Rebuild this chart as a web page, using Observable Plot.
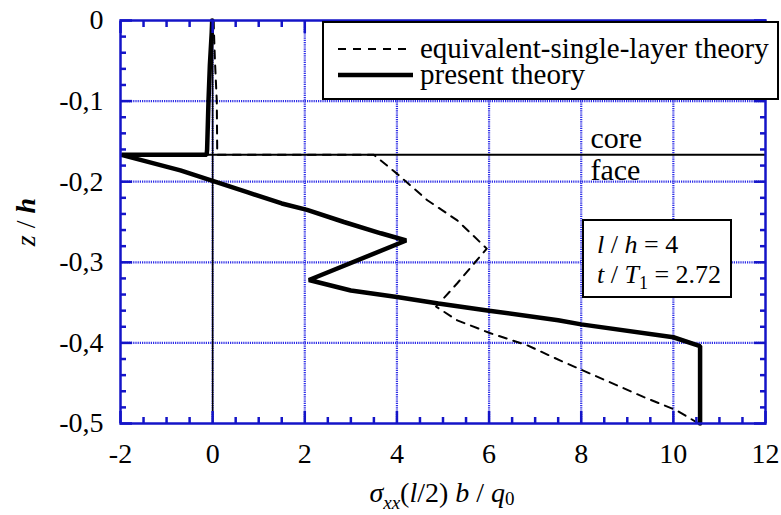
<!DOCTYPE html>
<html>
<head>
<meta charset="utf-8">
<script src="https://cdn.jsdelivr.net/npm/d3@7"></script>
<script src="https://cdn.jsdelivr.net/npm/@observablehq/plot@0.6"></script>
<style>
  body { margin: 0; background: #fff; }
  svg { display: block; }
</style>
</head>
<body>
<div id="chart"></div>
<script>
// Bending stress σxx(l/2)·b/q0 through the lower half of the sandwich (z/h from 0 to -0.5)

// present theory (core, jump at the interface, then face)
const presentSigma = [-0.01, -0.02, -0.06, -0.09, -0.12, -0.13, -1.98, -0.7, 0.0, 0.75, 1.5, 2.05, 2.85, 3.65, 4.2, 2.09, 3.0, 4.0, 4.9, 6.0, 7.5, 8.0, 10.0, 10.58, 10.58];
const presentZ     = [0.0, -0.015, -0.055, -0.1, -0.16, -0.1667, -0.1667, -0.186, -0.199, -0.213, -0.227, -0.235, -0.25, -0.264, -0.273, -0.322, -0.335, -0.343, -0.351, -0.36, -0.372, -0.377, -0.393, -0.404, -0.5];

// equivalent-single-layer theory
const eslSigma = [0.02, 0.05, 0.09, 0.1, 3.5, 4.0, 4.66, 5.31, 5.95, 5.31, 4.85, 5.31, 6.03, 6.83, 7.55, 8.27, 9.35, 10.08, 10.55];
const eslZ     = [0.0, -0.05, -0.1, -0.1667, -0.1667, -0.19, -0.223, -0.248, -0.283, -0.326, -0.355, -0.372, -0.388, -0.403, -0.422, -0.44, -0.467, -0.484, -0.5];

// core / face interface
const interfaceZ = -1 / 6;

// axes
const xTicks = [-2, 0, 2, 4, 6, 8, 10, 12];
const xTickLabels = ["-2", "0", "2", "4", "6", "8", "10", "12"];
const yTicks = [0, -0.1, -0.2, -0.3, -0.4, -0.5];
const yTickLabels = ["0", "-0,1", "-0,2", "-0,3", "-0,4", "-0,5"];
const xGrid = [0, 2, 4, 6, 8, 10];
const yGrid = [-0.1, -0.2, -0.3, -0.4];
const xMinor = d3.range(-2, 12.001, 0.5).filter(v => Math.abs(v / 2 - Math.round(v / 2)) > 1e-6);
const yMinor = d3.range(0, -0.5001, -0.02).filter(v => Math.abs(v * 10 - Math.round(v * 10)) > 1e-6);

const present = presentSigma.map((s, i) => ({sigma: s, z: presentZ[i]}));
const esl = eslSigma.map((s, i) => ({sigma: s, z: eslZ[i]}));

const blue = "#1414c8";
const gridBlue = "#2c2ce6";
const font = "'Liberation Serif', 'Times New Roman', serif";

const labelFor = (ticks, labels) => d => {
  const i = ticks.findIndex(t => Math.abs(t - d) < 1e-9);
  return i < 0 ? "" : labels[i];
};
const blank = () => "";

const tickAxes = [];
for (const [anchor, axis] of [["bottom", Plot.axisX], ["top", Plot.axisX], ["left", Plot.axisY], ["right", Plot.axisY]]) {
  const major = anchor === "bottom" || anchor === "top" ? xTicks : yTicks;
  const minor = anchor === "bottom" || anchor === "top" ? xMinor : yMinor;
  tickAxes.push(axis(major, {anchor, tickSize: -12, tickFormat: blank, stroke: blue, strokeWidth: 2.5, label: null}));
  tickAxes.push(axis(minor, {anchor, tickSize: -6, tickFormat: blank, stroke: blue, strokeWidth: 2.5, label: null}));
}

const chart = Plot.plot({
  width: 781,
  height: 515,
  marginLeft: 120,
  marginRight: 16,
  marginTop: 20,
  marginBottom: 92,
  style: {fontFamily: font, fontSize: "28px", color: "black", background: "white"},
  x: {domain: [-2, 12]},
  y: {domain: [-0.5, 0]},
  marks: [
    Plot.gridX(xGrid, {stroke: gridBlue, strokeOpacity: 1, strokeWidth: 2.2, strokeDasharray: "1.2,1"}),
    Plot.gridY(yGrid, {stroke: gridBlue, strokeOpacity: 1, strokeWidth: 2.2, strokeDasharray: "1.2,1"}),
    Plot.ruleX([0], {stroke: "black", strokeWidth: 1.5}),
    Plot.ruleY([interfaceZ], {stroke: "black", strokeWidth: 2}),
    Plot.line(esl, {x: "sigma", y: "z", stroke: "black", strokeWidth: 2, strokeDasharray: "8,7"}),
    Plot.line(present, {x: "sigma", y: "z", stroke: "black", strokeWidth: 4.5, strokeLinejoin: "miter"}),
    Plot.text(["core"], {x: 8.2, y: -0.158, text: d => d, textAnchor: "start", lineAnchor: "bottom", fontSize: 30}),
    Plot.text(["face"], {x: 8.2, y: -0.198, text: d => d, textAnchor: "start", lineAnchor: "bottom", fontSize: 30}),
    ...tickAxes,
    Plot.axisX(xTicks, {anchor: "bottom", tickSize: 0, tickPadding: 20, tickFormat: labelFor(xTicks, xTickLabels), label: null, fontSize: 28}),
    Plot.axisY(yTicks, {anchor: "left", tickSize: 0, tickPadding: 17, tickFormat: labelFor(yTicks, yTickLabels), label: null, fontSize: 28}),
    Plot.frame({stroke: blue, strokeWidth: 2.5})
  ]
});

const svg = d3.select(chart);

// legend
const leg = svg.append("g").attr("font-family", font).attr("font-size", 29).attr("text-anchor", "start");
leg.append("rect").attr("x", 323).attr("y", 22).attr("width", 455).attr("height", 77)
  .attr("fill", "white").attr("stroke", "black").attr("stroke-width", 2);
leg.append("line").attr("x1", 338).attr("x2", 413).attr("y1", 49).attr("y2", 49)
  .attr("stroke", "black").attr("stroke-width", 2).attr("stroke-dasharray", "8,7");
leg.append("line").attr("x1", 338).attr("x2", 413).attr("y1", 75).attr("y2", 75)
  .attr("stroke", "black").attr("stroke-width", 4.5);
leg.append("text").attr("x", 420).attr("y", 58).text("equivalent-single-layer theory");
leg.append("text").attr("x", 420).attr("y", 84).text("present theory");

// parameter box
const box = svg.append("g").attr("font-family", font).attr("font-size", 26).attr("text-anchor", "start");
box.append("rect").attr("x", 583).attr("y", 220).attr("width", 148).attr("height", 77)
  .attr("fill", "white").attr("stroke", "black").attr("stroke-width", 2);
const l1 = box.append("text").attr("x", 597).attr("y", 253);
l1.append("tspan").attr("font-style", "italic").text("l");
l1.append("tspan").text(" / ");
l1.append("tspan").attr("font-style", "italic").text("h");
l1.append("tspan").text(" = 4");
const l2 = box.append("text").attr("x", 597).attr("y", 283);
l2.append("tspan").attr("font-style", "italic").text("t");
l2.append("tspan").text(" / ");
l2.append("tspan").attr("font-style", "italic").text("T");
l2.append("tspan").attr("font-size", 18).attr("dy", 6).text("1");
l2.append("tspan").attr("dy", -6).text(" = 2.72");

// x axis title
const xt = svg.append("text").attr("x", 442).attr("y", 502).attr("text-anchor", "middle")
  .attr("font-family", font).attr("font-size", 28);
xt.append("tspan").attr("font-style", "italic").text("σ");
xt.append("tspan").attr("font-style", "italic").attr("font-size", 19).attr("dy", 7).text("xx");
xt.append("tspan").attr("dy", -7).text("(");
xt.append("tspan").attr("font-style", "italic").text("l");
xt.append("tspan").text("/2) ");
xt.append("tspan").attr("font-style", "italic").text("b");
xt.append("tspan").text(" / ");
xt.append("tspan").attr("font-style", "italic").text("q");
xt.append("tspan").attr("font-size", 19).attr("dy", 3).text("0");

// y axis title
const yt = svg.append("text").attr("transform", "translate(25,222) rotate(-90)")
  .attr("text-anchor", "middle").attr("dy", "0.35em")
  .attr("font-family", font).attr("font-size", 28);
yt.append("tspan").attr("font-style", "italic").text("z");
yt.append("tspan").text(" / ");
yt.append("tspan").attr("font-style", "italic").attr("font-weight", "bold").text("h");

document.getElementById("chart").appendChild(chart);
</script>
</body>
</html>
